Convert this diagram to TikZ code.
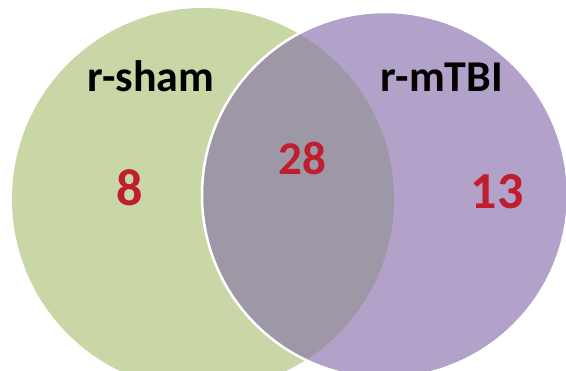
\documentclass[tikz,border=0pt]{standalone}
\usepackage{fontspec}
\setmainfont{Carlito}
\definecolor{vgreen}{RGB}{201,215,167}
\definecolor{vpurple}{RGB}{178,161,201}
\definecolor{vover}{RGB}{158,151,165}
\definecolor{vred}{RGB}{190,30,45}
\tikzset{
  setlabel/.style={font=\fontsize{44}{44}\selectfont\bfseries, text=black, anchor=base, inner sep=0pt},
  countlabel/.style={font=\fontsize{52}{52}\selectfont\bfseries, text=vred, anchor=base, inner sep=0pt},
}
\begin{document}
\begin{tikzpicture}[x=1pt,y=-1pt]
\useasboundingbox (0,0) rectangle (566,371);
\begin{scope}
\clip (0,0) rectangle (566,371);
\coordinate (cl) at (203,199);
\coordinate (cr) at (385,195);
\fill[vgreen] (cl) circle[radius=191];
\fill[vpurple] (cr) circle[radius=183];
\begin{scope}
\clip (cl) circle[radius=191];
\fill[vover] (cr) circle[radius=183];
\end{scope}
\draw[white, line width=2.5pt] (cr) circle[radius=183];
\end{scope}
\node[setlabel] (sham) at (151,92) {r-sham};
\node[setlabel] (mtbi) at (442,92) {r-mTBI};
\node[countlabel] (n8) at (130,206) {8};
\node[countlabel, font=\fontsize{47}{47}\selectfont\bfseries] (n28) at (302,175) {28};
\node[countlabel] (n13) at (497,209) {13};
\end{tikzpicture}
\end{document}
